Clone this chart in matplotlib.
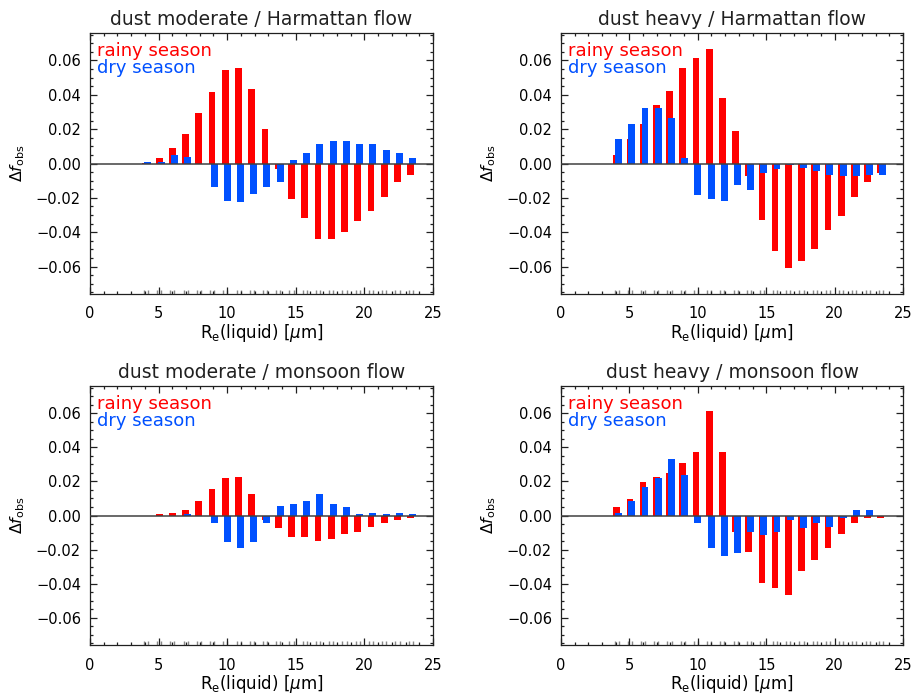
import numpy as np
import matplotlib as mpl
mpl.use('Agg')
import matplotlib.pyplot as plt
from matplotlib.ticker import MultipleLocator, FuncFormatter

# effective radius bins (um), position of the rainy season bars
re_bins = [4.07, 5.04, 6.00, 6.97, 7.93, 8.90, 9.86, 10.83, 11.79, 12.76, 13.72,
           14.69, 15.65, 16.62, 17.58, 18.55, 19.51, 20.48, 21.44, 22.41, 23.37]

titles = ['dust moderate / Harmattan flow', 'dust heavy / Harmattan flow',
          'dust moderate / monsoon flow', 'dust heavy / monsoon flow']

mod_harm_rainy = [0.0005, 0.0031, 0.0089, 0.0171, 0.0293, 0.0415, 0.0544, 0.0555, 0.0433, 0.0200, -0.0033,
                  -0.0208, -0.0318, -0.0440, -0.0440, -0.0398, -0.0334, -0.0278, -0.0196, -0.0109, -0.0066]
mod_harm_dry = [0.0010, 0.0008, 0.0050, 0.0039, 0.0000, -0.0138, -0.0219, -0.0225, -0.0177, -0.0138, -0.0109,
                0.0019, 0.0060, 0.0113, 0.0130, 0.0130, 0.0113, 0.0113, 0.0078, 0.0060, 0.0031]

heavy_harm_rainy = [0.0050, 0.0142, 0.0229, 0.0340, 0.0421, 0.0555, 0.0614, 0.0666, 0.0380, 0.0188, -0.0072,
                    -0.0328, -0.0509, -0.0608, -0.0569, -0.0497, -0.0386, -0.0305, -0.0194, -0.0109, -0.0054]
heavy_harm_dry = [0.0142, 0.0229, 0.0322, 0.0322, 0.0264, 0.0031, -0.0183, -0.0206, -0.0217, -0.0124, -0.0153,
                  -0.0054, -0.0031, -0.0010, -0.0027, -0.0043, -0.0066, -0.0074, -0.0074, -0.0066, -0.0066]

mod_mons_rainy = [0.0000, 0.0006, 0.0017, 0.0035, 0.0087, 0.0157, 0.0223, 0.0227, 0.0128, -0.0025, -0.0074,
                  -0.0124, -0.0124, -0.0148, -0.0136, -0.0107, -0.0097, -0.0066, -0.0043, -0.0025, -0.0014]
mod_mons_dry = [0.0000, 0.0000, 0.0000, 0.0006, 0.0000, -0.0043, -0.0155, -0.0190, -0.0155, -0.0043, 0.0058,
                0.0070, 0.0087, 0.0128, 0.0070, 0.0047, 0.0006, 0.0017, 0.0006, 0.0017, 0.0006]

heavy_mons_rainy = [0.0047, 0.0099, 0.0198, 0.0227, 0.0250, 0.0309, 0.0373, 0.0612, 0.0373, -0.0095, -0.0217,
                    -0.0398, -0.0427, -0.0468, -0.0328, -0.0264, -0.0188, -0.0107, -0.0043, -0.0014, -0.0014]
heavy_mons_dry = [0.0017, 0.0087, 0.0169, 0.0221, 0.0332, 0.0239, -0.0043, -0.0188, -0.0235, -0.0223, -0.0095,
                  -0.0113, -0.0095, -0.0025, -0.0072, -0.0043, -0.0066, -0.0014, 0.0035, 0.0035, 0.0000]

rainy = [mod_harm_rainy, heavy_harm_rainy, mod_mons_rainy, heavy_mons_rainy]
dry = [mod_harm_dry, heavy_harm_dry, mod_mons_dry, heavy_mons_dry]

red = '#ff0000'
blue = '#0050ff'

W, H = 914., 696.
fig = plt.figure(figsize=(W/100, H/100), dpi=100)

# axes boxes in pixels: left, top, right, bottom
boxes = [(90, 33, 433, 294), (561, 33, 903, 294),
         (90, 386, 433, 645), (561, 386, 903, 645)]

def yfmt(v, pos):
    s = '%.2f' % v
    if s == '-0.00':
        s = '0.00'
    return s.replace('-', '\u2212')

x = np.array(re_bins)
for i in range(4):
    l, t, r, b = boxes[i]
    ax = fig.add_axes([l/W, 1-b/H, (r-l)/W, (b-t)/H])
    ax.bar(x, rainy[i], width=0.49, color=red, zorder=2)
    ax.bar(x+0.14, dry[i], width=0.51, color=blue, zorder=2)
    ax.axhline(0, color='#404040', lw=1.1, zorder=3)

    ax.set_xlim(0, 25)
    ax.set_ylim(-0.076, 0.076)
    ax.xaxis.set_major_locator(MultipleLocator(5))
    ax.xaxis.set_minor_locator(MultipleLocator(1))
    ax.yaxis.set_major_locator(MultipleLocator(0.02))
    ax.yaxis.set_minor_locator(MultipleLocator(0.005))
    ax.yaxis.set_major_formatter(FuncFormatter(yfmt))
    ax.tick_params(which='both', direction='in', top=True, right=True, color='#202020')
    ax.tick_params(which='major', length=5, width=0.9)
    ax.tick_params(which='minor', length=2.5, width=0.9)
    ax.tick_params(axis='y', labelsize=10.5, pad=6.5)
    ax.tick_params(axis='x', labelsize=10.5, pad=9)
    for sp in ax.spines.values():
        sp.set_linewidth(0.9)
        sp.set_color('#202020')

    # small grey marks along the bottom axis
    ax.vlines(np.concatenate([x - 0.15, x + 0.15]), -0.076, -0.0735, color='#888888', lw=1.0, zorder=1)

    ax.set_title(titles[i], fontsize=13.5, pad=6, color='#202020')
    ax.text(0.02, 0.967, 'rainy season', color=red, fontsize=13, va='top', transform=ax.transAxes)
    ax.text(0.02, 0.901, 'dry season', color=blue, fontsize=13, va='top', transform=ax.transAxes)

    ax.set_xlabel(r'R$_{\rm e}$(liquid) [$\mu$m]', fontsize=12)
    ax.xaxis.set_label_coords(0.5, -0.108)
    ax.set_ylabel(r'$\Delta f_{\rm obs}$', fontsize=11.5)
    ax.yaxis.set_label_coords(-0.185, 0.5)

plt.savefig('out.png', dpi=100)
